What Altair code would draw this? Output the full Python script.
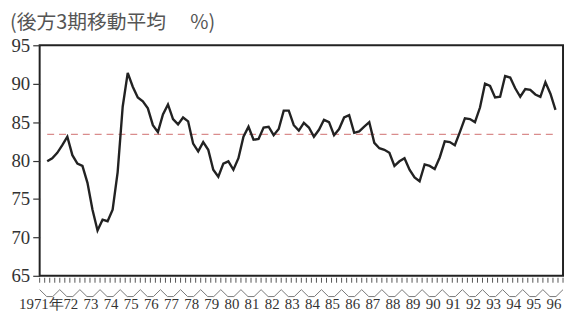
import altair as alt
import pandas as pd

# ---------------- data ----------------
TITLE = "(後方3期移動平均　 %)"
YEARS = list(range(1971, 1997))
YEAR_LABELS = ["1971年"] + [f"{y % 100:02d}" for y in range(1972, 1997)]
Y_TICKS = [65, 70, 75, 80, 85, 90, 95]
# quarterly series, first point = 1971 Q2, last point = 1996 Q3
FIRST_QUARTER = 1  # 0-based quarter index of the first value (1971 Q2)
VALUES = [
    79.9, 80.3, 81.0, 82.0, 83.1, 80.7, 79.6, 79.3, 77.1, 73.6,
    70.9, 72.3, 72.1, 73.6, 78.5, 87.0, 91.4, 89.6, 88.2, 87.7,
    86.8, 84.6, 83.7, 86.0, 87.3, 85.4, 84.7, 85.6, 85.1, 82.2,
    81.2, 82.4, 81.4, 78.8, 77.9, 79.6, 79.9, 78.8, 80.3, 83.1,
    84.4, 82.7, 82.8, 84.3, 84.4, 83.3, 84.1, 86.5, 86.5, 84.6,
    83.9, 84.9, 84.3, 83.1, 84.0, 85.3, 85.0, 83.3, 84.1, 85.6,
    85.9, 83.6, 83.8, 84.4, 85.0, 82.3, 81.6, 81.4, 81.0, 79.3,
    79.9, 80.3, 78.8, 77.8, 77.3, 79.5, 79.3, 78.9, 80.4, 82.5,
    82.4, 82.0, 83.7, 85.5, 85.4, 85.0, 86.9, 90.0, 89.7, 88.2,
    88.3, 91.0, 90.8, 89.4, 88.3, 89.3, 89.2, 88.6, 88.3, 90.2,
    88.7, 86.6,
]
MEAN_LEVEL = 83.4

# ---------------- layout ----------------
W, H = 529, 233
N_Q = len(YEARS) * 4
Y0, Y1 = 65, 95
PX_PER_UNIT = H / (Y1 - Y0)


def below(px):
    """y value (in data units) that lies px pixels under the bottom of the plot"""
    return Y0 - px / PX_PER_UNIT


line_df = pd.DataFrame({
    "q": [FIRST_QUARTER + i + 0.5 for i in range(len(VALUES))],
    "v": VALUES,
})
mean_df = pd.DataFrame({
    "x": [line_df["q"].iloc[0]], "x2": [line_df["q"].iloc[-1]], "y": [MEAN_LEVEL]
})

# quarter tick marks under the frame
tick_df = pd.DataFrame({"q": list(range(0, N_Q + 1))})
tick_df["y"] = below(2)
tick_df["y2"] = below(7)

# year bracket zigzag
zx, zy = [], []
for i in range(len(YEARS)):
    s = 4 * i
    zx += [s, s + 1.4, s + 2.6]
    zy += [below(14), below(21), below(21)]
zx.append(N_Q)
zy.append(below(14))
zig_df = pd.DataFrame({"x": zx, "y": zy, "o": list(range(len(zx)))})

year_df = pd.DataFrame({
    "mid": [4 * i + 2 for i in range(len(YEARS))],
    "end": [4 * i + 4 for i in range(len(YEARS))],
    "label": YEAR_LABELS,
})
first_df = year_df.iloc[:1]
rest_df = year_df.iloc[1:]

xscale = alt.Scale(domain=[0, N_Q], nice=False, zero=False)
yscale = alt.Scale(domain=[Y0, Y1], nice=False, zero=False)

y_axis = alt.Axis(
    values=Y_TICKS, title=None, grid=False, domain=False, tickSize=7,
    tickColor="#333", tickWidth=1.2, labelFont="Liberation Serif",
    labelFontSize=19, labelColor="#333", labelPadding=3, labelOverlap=False,
)

line = alt.Chart(line_df).mark_line(color="#222", strokeWidth=2.4).encode(
    x=alt.X("q:Q", scale=xscale, axis=None),
    y=alt.Y("v:Q", scale=yscale, axis=y_axis),
)

mean_rule = alt.Chart(mean_df).mark_rule(
    color="#d98c8c", strokeWidth=1.2, strokeDash=[7, 5]
).encode(
    x=alt.X("x:Q", scale=xscale, axis=None),
    x2="x2:Q",
    y=alt.Y("y:Q", scale=yscale, axis=y_axis),
)

q_ticks = alt.Chart(tick_df).mark_rule(color="#555", strokeWidth=1, clip=False).encode(
    x=alt.X("q:Q", scale=xscale, axis=None),
    y=alt.Y("y:Q", scale=yscale, axis=y_axis),
    y2="y2:Q",
)

zigzag = alt.Chart(zig_df).mark_line(color="#777", strokeWidth=1, clip=False).encode(
    x=alt.X("x:Q", scale=xscale, axis=None),
    y=alt.Y("y:Q", scale=yscale, axis=y_axis),
    order="o:Q",
)

year_text = alt.Chart(rest_df).mark_text(
    font="Liberation Serif", fontSize=15, color="#333", baseline="middle",
    align="center", clip=False, dx=1,
).encode(
    x=alt.X("mid:Q", scale=xscale, axis=None),
    y=alt.value(H + 29),
    text="label:N",
)
first_text = alt.Chart(first_df).mark_text(
    font="Liberation Serif", fontSize=15, color="#333", baseline="middle",
    align="right", clip=False, dx=4,
).encode(
    x=alt.X("end:Q", scale=xscale, axis=None),
    y=alt.value(H + 29),
    text="label:N",
)

title_text = alt.Chart(pd.DataFrame({"t": [TITLE]})).mark_text(
    font="Noto Sans CJK JP", fontSize=20, color="#555", align="left",
    baseline="middle", clip=False,
).encode(
    x=alt.value(-30), y=alt.value(-22), text="t:N",
)

chart = alt.layer(
    mean_rule, line, q_ticks, zigzag, year_text, first_text, title_text
).properties(
    width=W, height=H,
    autosize=alt.AutoSizeParams(type="none"),
    padding={"left": 32, "top": 36, "right": 2, "bottom": 44},
    background="white",
).configure_view(stroke="#222", strokeWidth=2)

chart.save("out.html", embed_options={"renderer": "svg", "actions": False})
